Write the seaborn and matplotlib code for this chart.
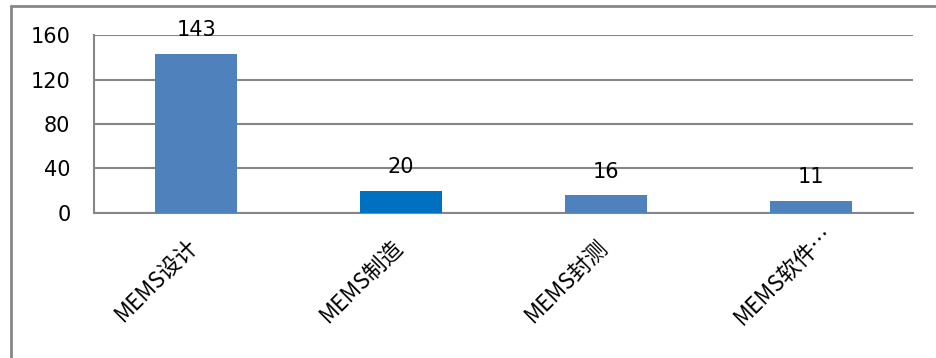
import matplotlib
matplotlib.use("Agg")
import matplotlib.pyplot as plt
import matplotlib.transforms as mtransforms
import seaborn as sns
import pandas as pd
from matplotlib.lines import Line2D

categories = ["MEMS设计", "MEMS制造", "MEMS封测", "MEMS软件…"]
counts = [143, 20, 16, 11]
bar_colors = ["#4F81BD", "#0070C0", "#4F81BD", "#4F81BD"]
y_ticks = [0, 40, 80, 120, 160]

sns.set_style("white")
plt.rcParams["font.family"] = ["Noto Sans CJK SC", "DejaVu Sans"]
plt.rcParams["text.color"] = "black"
plt.rcParams["xtick.color"] = "black"
plt.rcParams["ytick.color"] = "black"

GRAY = "#868686"
DPI = 100

fig = plt.figure(figsize=(9.36, 3.58), dpi=DPI)
ax = fig.add_axes([94 / 936, 1 - 213 / 358, (913 - 94) / 936, (213 - 35) / 358])

df = pd.DataFrame({"cat": categories, "n": counts})
sns.barplot(data=df, x="cat", y="n", hue="cat", palette=bar_colors,
            width=0.4, legend=False, ax=ax, saturation=1, zorder=3,
            linewidth=0)

ax.set_ylim(0, 160)
ax.set_xlim(-0.5, len(categories) - 0.5)
ax.set_yticks(y_ticks)
ax.set_yticklabels([str(v) for v in y_ticks], fontsize=15, family="DejaVu Sans")
ax.yaxis.grid(True, color=GRAY, linewidth=1.5, zorder=0)
ax.set_axisbelow(True)

# category boundary ticks on the major locator, labels on the minor one
ax.set_xticks([i - 0.5 for i in range(len(categories) + 1)])
ax.set_xticklabels([])
ax.set_xticks(range(len(categories)), minor=True)
ax.set_xticklabels(categories, minor=True, rotation=45, ha="right",
                   va="top", rotation_mode="anchor", fontsize=16)
ax.tick_params(axis="x", which="minor", length=0, pad=20)
ax.tick_params(axis="x", which="major", length=8, width=1.5, color=GRAY, direction="out")
ax.tick_params(axis="y", length=8, width=1.5, color=GRAY, direction="out", pad=9)

# nudge the slanted labels; the truncated last one runs further along its direction
label_shift = [(-10, 6), (-10, 6), (-10, 6), (11, 18)]
for lab, (dx, dy) in zip(ax.get_xticklabels(minor=True), label_shift):
    lab.set_transform(lab.get_transform() +
                      mtransforms.ScaledTranslation(dx / DPI, dy / DPI, fig.dpi_scale_trans))

ax.set_xlabel("")
ax.set_ylabel("")
for side in ["top", "right"]:
    ax.spines[side].set_visible(False)
for side in ["left", "bottom"]:
    ax.spines[side].set_color(GRAY)
    ax.spines[side].set_linewidth(1.5)

for i, v in enumerate(counts):
    ax.annotate(str(v), xy=(i, v), xytext=(0, 17), textcoords="offset points",
                ha="center", va="center", fontsize=15, family="DejaVu Sans",
                zorder=5)

# outer chart frame
fig.add_artist(Line2D([11 / 936, 1.0], [1 - 6 / 358, 1 - 6 / 358],
                      transform=fig.transFigure, color=GRAY, linewidth=2))
fig.add_artist(Line2D([11 / 936, 11 / 936], [0.0, 1 - 6 / 358],
                      transform=fig.transFigure, color=GRAY, linewidth=2))

fig.savefig("out.png", dpi=DPI)
